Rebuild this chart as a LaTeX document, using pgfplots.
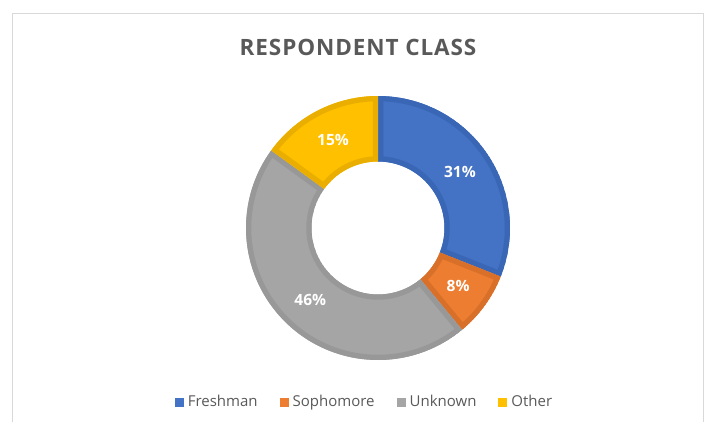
\documentclass[border=0pt]{standalone}
\usepackage{fontspec}
\setmainfont{Open Sans}
\usepackage{pgfplots}
\usepackage{pgfplotstable}
\pgfplotsset{compat=1.18}
\definecolor{cFresh}{HTML}{4472C4}
\definecolor{cFreshD}{HTML}{3A66B6}
\definecolor{cSoph}{HTML}{ED7D31}
\definecolor{cSophD}{HTML}{D97029}
\definecolor{cUnk}{HTML}{A5A5A5}
\definecolor{cUnkD}{HTML}{989898}
\definecolor{cOth}{HTML}{FFC000}
\definecolor{cOthD}{HTML}{E9AE00}
\definecolor{txt}{HTML}{595959}
\definecolor{framec}{HTML}{D9D9D9}

\pgfplotstableread{
label value
Freshman 31
Sophomore 8
Unknown 46
Other 15
}\donutdata

\pgfplotstablegetelem{0}{value}\of\donutdata \let\vA\pgfplotsretval
\pgfplotstablegetelem{1}{value}\of\donutdata \let\vB\pgfplotsretval
\pgfplotstablegetelem{2}{value}\of\donutdata \let\vC\pgfplotsretval
\pgfplotstablegetelem{3}{value}\of\donutdata \let\vD\pgfplotsretval
\pgfmathsetmacro\angA{90}
\pgfmathsetmacro\angB{\angA-3.6*\vA}
\pgfmathsetmacro\angC{\angB-3.6*\vB}
\pgfmathsetmacro\angD{\angC-3.6*\vC}
\pgfmathsetmacro\angE{\angD-3.6*\vD}
\pgfmathsetmacro\midA{(\angA+\angB)/2}
\pgfmathsetmacro\midB{(\angB+\angC)/2}
\pgfmathsetmacro\midC{(\angC+\angD)/2}
\pgfmathsetmacro\midD{(\angD+\angE)/2}

\def\cx{378}\def\cy{228}
\def\Ro{132pt}\def\Ri{66.5pt}
\newcommand\wedgepath[2]{([shift={(#1:\Ro)}]axis cs:\cx,\cy) arc[start angle=#1,end angle=#2,radius=\Ro] -- ([shift={(#2:\Ri)}]axis cs:\cx,\cy) arc[start angle=#2,end angle=#1,radius=\Ri] -- cycle}
\newcommand\donutwedge[4]{%
  \begin{scope}
    \clip \wedgepath{#1}{#2};
    \fill[#3] \wedgepath{#1}{#2};
    \draw[#4,line width=10.5pt] \wedgepath{#1}{#2};
  \end{scope}}

\begin{document}
\begin{tikzpicture}
\begin{axis}[
  scale only axis, width=708pt, height=422pt,
  xmin=0, xmax=708, ymin=0, ymax=422, y dir=reverse,
  hide axis, clip=false,
  legend image code/.code={\fill[#1] (0pt,-4.5pt) rectangle (9pt,4.5pt); \path (12pt,0pt);},
  legend style={at={(0.5141,0.0474)}, anchor=center, draw=none, fill=none,
    legend columns=4, font=\fontsize{15}{18}\selectfont, text=txt,
    /tikz/every even column/.append style={column sep=21pt},
    legend cell align=left, inner sep=0pt,
    nodes={inner sep=1pt}},
]
\path (axis cs:0,0) rectangle (axis cs:708,422);
\draw[framec, line width=1pt] (axis cs:12.5,422) -- (axis cs:12.5,13.5) -- (axis cs:703,13.5) -- (axis cs:703,422);
\addlegendimage{fill=cFresh, draw=none}\addlegendentry{Freshman}
\addlegendimage{fill=cSoph, draw=none}\addlegendentry{Sophomore}
\addlegendimage{fill=cUnk, draw=none}\addlegendentry{Unknown}
\addlegendimage{fill=cOth, draw=none}\addlegendentry{Other}
\donutwedge{\angA}{\angB}{cFresh}{cFreshD}
\donutwedge{\angB}{\angC}{cSoph}{cSophD}
\donutwedge{\angC}{\angD}{cUnk}{cUnkD}
\donutwedge{\angD}{\angE}{cOth}{cOthD}
\tikzset{lbl/.style={text=white, font=\bfseries\fontsize{15.5}{18}\selectfont}}
\node[lbl] at ([shift={(\midA:99pt)}]axis cs:\cx,\cy) {\vA\%};
\node[lbl] at ([shift={(\midB:99pt)}]axis cs:\cx,\cy) {\vB\%};
\node[lbl] at ([shift={(\midC:99pt)}]axis cs:\cx,\cy) {\vC\%};
\node[lbl] at ([shift={(\midD:99pt)}]axis cs:\cx,\cy) {\vD\%};
\node[text=txt, font=\bfseries\fontsize{22.5}{27}\selectfont\addfontfeatures{LetterSpace=4}] at (axis cs:358,47) {RESPONDENT CLASS};
\end{axis}
\end{tikzpicture}
\end{document}
